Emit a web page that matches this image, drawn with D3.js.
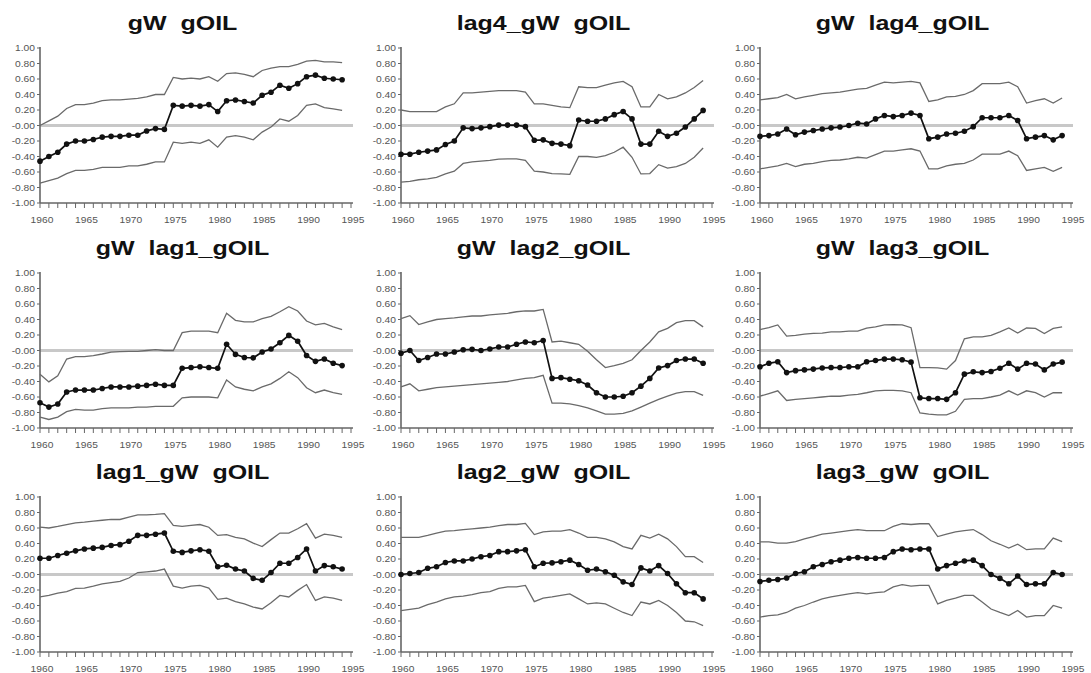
<!DOCTYPE html>
<html><head><meta charset="utf-8">
<script src="https://cdn.jsdelivr.net/npm/d3@7"></script>
<style>body{margin:0;background:#fff;}svg{display:block;}</style>
</head><body>
<svg id="c" width="1091" height="673"></svg>
<script>
const years = [1960,1961,1962,1963,1964,1965,1966,1967,1968,1969,1970,1971,1972,1973,1974,1975,1976,1977,1978,1979,1980,1981,1982,1983,1984,1985,1986,1987,1988,1989,1990,1991,1992,1993,1994];
const titles = ["gW  gOIL","lag4_gW  gOIL","gW  lag4_gOIL","gW  lag1_gOIL","gW  lag2_gOIL","gW  lag3_gOIL","lag1_gW  gOIL","lag2_gW  gOIL","lag3_gW  gOIL"];
const yTickValues = [1,0.8,0.6,0.4,0.2,0,-0.2,-0.4,-0.6,-0.8,-1];
const yTickLabels = ["1.00","0.80","0.60","0.40","0.20","-0.00","-0.20","-0.40","-0.60","-0.80","-1.00"];
const xTickLabels = [1960,1965,1970,1975,1980,1985,1990,1995];

const p1_mid = [-0.46,-0.40,-0.345,-0.24,-0.20,-0.20,-0.18,-0.15,-0.14,-0.14,-0.125,-0.125,-0.07,-0.04,-0.05,0.26,0.25,0.26,0.25,0.27,0.18,0.32,0.33,0.31,0.29,0.39,0.43,0.52,0.48,0.54,0.63,0.65,0.61,0.60,0.59];
const p1_hi = [0.00,0.06,0.12,0.22,0.27,0.27,0.29,0.32,0.33,0.33,0.34,0.35,0.37,0.40,0.40,0.62,0.60,0.61,0.60,0.63,0.57,0.67,0.68,0.66,0.63,0.71,0.74,0.76,0.76,0.79,0.83,0.84,0.82,0.82,0.81];
const p1_lo = [-0.745,-0.71,-0.68,-0.62,-0.58,-0.58,-0.565,-0.54,-0.54,-0.54,-0.52,-0.52,-0.50,-0.47,-0.47,-0.215,-0.23,-0.215,-0.23,-0.185,-0.28,-0.15,-0.13,-0.15,-0.185,-0.085,-0.02,0.085,0.055,0.13,0.26,0.28,0.23,0.215,0.195];

const p2_mid = [-0.37,-0.37,-0.345,-0.33,-0.315,-0.245,-0.20,-0.03,-0.04,-0.03,-0.015,0.005,0.005,0.005,-0.015,-0.19,-0.185,-0.23,-0.24,-0.26,0.07,0.055,0.055,0.085,0.14,0.18,0.085,-0.24,-0.24,-0.075,-0.14,-0.10,-0.02,0.085,0.195];
const p2_hi = [0.20,0.18,0.18,0.18,0.18,0.24,0.28,0.42,0.42,0.43,0.44,0.45,0.45,0.45,0.43,0.28,0.28,0.26,0.24,0.23,0.50,0.49,0.49,0.52,0.55,0.57,0.50,0.24,0.24,0.40,0.345,0.37,0.42,0.49,0.58];
const p2_lo = [-0.73,-0.72,-0.70,-0.69,-0.67,-0.625,-0.59,-0.49,-0.47,-0.46,-0.45,-0.435,-0.43,-0.43,-0.45,-0.59,-0.60,-0.62,-0.625,-0.63,-0.40,-0.40,-0.41,-0.39,-0.345,-0.28,-0.41,-0.625,-0.62,-0.505,-0.55,-0.53,-0.49,-0.41,-0.29];

const p3_mid = [-0.14,-0.13,-0.11,-0.045,-0.12,-0.085,-0.065,-0.045,-0.03,-0.02,0.0,0.03,0.02,0.085,0.13,0.115,0.13,0.16,0.13,-0.17,-0.15,-0.11,-0.10,-0.075,-0.015,0.10,0.10,0.10,0.13,0.065,-0.17,-0.15,-0.13,-0.185,-0.13];
const p3_hi = [0.33,0.345,0.36,0.40,0.345,0.37,0.39,0.41,0.42,0.43,0.45,0.47,0.48,0.52,0.56,0.55,0.56,0.57,0.55,0.31,0.33,0.37,0.375,0.40,0.45,0.54,0.54,0.54,0.56,0.50,0.29,0.32,0.345,0.29,0.355];
const p3_lo = [-0.56,-0.54,-0.52,-0.49,-0.53,-0.50,-0.49,-0.465,-0.45,-0.445,-0.43,-0.41,-0.42,-0.375,-0.33,-0.33,-0.315,-0.30,-0.33,-0.56,-0.56,-0.52,-0.50,-0.49,-0.445,-0.37,-0.37,-0.37,-0.33,-0.39,-0.58,-0.56,-0.54,-0.59,-0.54];

const p4_mid = [-0.675,-0.73,-0.69,-0.535,-0.51,-0.51,-0.51,-0.49,-0.47,-0.47,-0.47,-0.46,-0.45,-0.435,-0.45,-0.45,-0.23,-0.22,-0.21,-0.22,-0.23,0.08,-0.05,-0.09,-0.095,-0.02,0.02,0.10,0.195,0.12,-0.065,-0.14,-0.11,-0.165,-0.195];
const p4_hi = [-0.305,-0.405,-0.325,-0.11,-0.08,-0.08,-0.065,-0.045,-0.02,-0.015,-0.01,-0.01,0.0,0.01,0.0,0.0,0.23,0.25,0.25,0.25,0.23,0.48,0.39,0.37,0.37,0.41,0.44,0.50,0.565,0.51,0.38,0.33,0.35,0.305,0.27];
const p4_lo = [-0.86,-0.89,-0.86,-0.79,-0.76,-0.77,-0.77,-0.75,-0.74,-0.74,-0.74,-0.73,-0.73,-0.72,-0.72,-0.72,-0.61,-0.60,-0.60,-0.60,-0.61,-0.38,-0.47,-0.50,-0.52,-0.47,-0.43,-0.36,-0.275,-0.35,-0.48,-0.545,-0.51,-0.545,-0.565];

const p5_mid = [-0.035,0.0,-0.13,-0.09,-0.045,-0.045,-0.02,0.01,0.015,0.0,0.02,0.045,0.045,0.08,0.11,0.10,0.13,-0.36,-0.35,-0.37,-0.39,-0.445,-0.545,-0.60,-0.60,-0.59,-0.545,-0.46,-0.36,-0.225,-0.195,-0.13,-0.11,-0.11,-0.165];
const p5_hi = [0.41,0.45,0.335,0.37,0.40,0.41,0.42,0.435,0.445,0.445,0.46,0.47,0.48,0.50,0.51,0.51,0.53,0.11,0.12,0.10,0.08,-0.01,-0.12,-0.22,-0.195,-0.165,-0.12,0.0,0.11,0.24,0.285,0.36,0.385,0.385,0.305];
const p5_lo = [-0.47,-0.43,-0.52,-0.50,-0.48,-0.47,-0.46,-0.45,-0.44,-0.43,-0.42,-0.41,-0.40,-0.38,-0.36,-0.35,-0.32,-0.68,-0.68,-0.69,-0.71,-0.74,-0.78,-0.82,-0.82,-0.81,-0.78,-0.73,-0.68,-0.63,-0.59,-0.55,-0.53,-0.53,-0.58];

const p6_mid = [-0.21,-0.165,-0.145,-0.285,-0.26,-0.25,-0.24,-0.225,-0.22,-0.22,-0.21,-0.21,-0.145,-0.13,-0.11,-0.11,-0.12,-0.15,-0.61,-0.62,-0.62,-0.63,-0.545,-0.305,-0.275,-0.285,-0.27,-0.23,-0.165,-0.24,-0.165,-0.175,-0.25,-0.175,-0.15];
const p6_hi = [0.27,0.295,0.33,0.185,0.195,0.21,0.22,0.225,0.24,0.24,0.25,0.25,0.29,0.305,0.33,0.335,0.33,0.295,-0.22,-0.22,-0.225,-0.24,-0.13,0.15,0.175,0.175,0.195,0.24,0.29,0.225,0.29,0.285,0.22,0.285,0.305];
const p6_lo = [-0.59,-0.555,-0.52,-0.645,-0.63,-0.62,-0.61,-0.60,-0.59,-0.59,-0.575,-0.565,-0.545,-0.52,-0.515,-0.515,-0.52,-0.545,-0.805,-0.82,-0.83,-0.83,-0.785,-0.63,-0.62,-0.62,-0.60,-0.575,-0.52,-0.575,-0.52,-0.545,-0.60,-0.545,-0.545];

const p7_mid = [0.21,0.21,0.245,0.275,0.305,0.33,0.34,0.35,0.375,0.385,0.43,0.505,0.505,0.52,0.535,0.30,0.285,0.305,0.32,0.30,0.10,0.12,0.07,0.045,-0.05,-0.075,0.025,0.145,0.145,0.22,0.33,0.045,0.115,0.10,0.07];
const p7_hi = [0.61,0.60,0.62,0.645,0.665,0.675,0.69,0.70,0.71,0.71,0.74,0.77,0.77,0.775,0.785,0.635,0.62,0.635,0.645,0.61,0.505,0.515,0.48,0.46,0.405,0.36,0.45,0.535,0.535,0.59,0.655,0.47,0.52,0.505,0.48];
const p7_lo = [-0.29,-0.27,-0.24,-0.22,-0.18,-0.175,-0.15,-0.12,-0.105,-0.09,-0.045,0.025,0.035,0.045,0.07,-0.15,-0.175,-0.15,-0.14,-0.175,-0.32,-0.305,-0.35,-0.38,-0.42,-0.445,-0.365,-0.27,-0.29,-0.205,-0.13,-0.335,-0.29,-0.305,-0.335];

const p8_mid = [0.0,0.013,0.026,0.08,0.10,0.155,0.175,0.175,0.20,0.23,0.245,0.295,0.295,0.305,0.32,0.10,0.145,0.15,0.165,0.185,0.13,0.055,0.07,0.035,-0.01,-0.095,-0.13,0.085,0.045,0.115,0.013,-0.12,-0.235,-0.235,-0.315];
const p8_hi = [0.48,0.48,0.48,0.505,0.535,0.56,0.565,0.58,0.59,0.60,0.61,0.63,0.645,0.645,0.66,0.515,0.55,0.56,0.56,0.58,0.535,0.48,0.48,0.46,0.42,0.36,0.33,0.505,0.47,0.52,0.46,0.36,0.23,0.23,0.155];
const p8_lo = [-0.465,-0.45,-0.435,-0.39,-0.355,-0.315,-0.29,-0.28,-0.26,-0.235,-0.22,-0.18,-0.16,-0.16,-0.14,-0.35,-0.305,-0.29,-0.27,-0.25,-0.315,-0.38,-0.365,-0.38,-0.435,-0.49,-0.53,-0.355,-0.38,-0.335,-0.40,-0.49,-0.60,-0.61,-0.66];

const p9_mid = [-0.09,-0.075,-0.065,-0.045,0.013,0.035,0.10,0.13,0.165,0.185,0.21,0.22,0.21,0.21,0.22,0.295,0.33,0.32,0.33,0.33,0.07,0.115,0.145,0.175,0.185,0.115,0.0,-0.05,-0.12,-0.02,-0.13,-0.12,-0.12,0.025,0.0];
const p9_hi = [0.42,0.42,0.405,0.405,0.425,0.46,0.49,0.52,0.535,0.55,0.565,0.58,0.565,0.565,0.565,0.62,0.655,0.645,0.655,0.655,0.49,0.52,0.55,0.565,0.58,0.515,0.435,0.39,0.34,0.39,0.32,0.33,0.33,0.47,0.425];
const p9_lo = [-0.55,-0.53,-0.52,-0.49,-0.435,-0.40,-0.355,-0.315,-0.29,-0.27,-0.25,-0.235,-0.25,-0.235,-0.225,-0.16,-0.13,-0.15,-0.14,-0.14,-0.38,-0.335,-0.305,-0.27,-0.27,-0.355,-0.445,-0.49,-0.53,-0.465,-0.55,-0.53,-0.53,-0.40,-0.435];

const panels = [
  {mid:p1_mid,hi:p1_hi,lo:p1_lo},{mid:p2_mid,hi:p2_hi,lo:p2_lo},{mid:p3_mid,hi:p3_hi,lo:p3_lo},
  {mid:p4_mid,hi:p4_hi,lo:p4_lo},{mid:p5_mid,hi:p5_hi,lo:p5_lo},{mid:p6_mid,hi:p6_hi,lo:p6_lo},
  {mid:p7_mid,hi:p7_hi,lo:p7_lo},{mid:p8_mid,hi:p8_hi,lo:p8_lo},{mid:p9_mid,hi:p9_hi,lo:p9_lo}
];

const colX = [40, 401, 760];
const rowY = [48, 273, 497];
const W = 311, H = 155;
const STRETCH = 1.22;
const FONT = "'Liberation Sans', Arial, sans-serif";

const svg = d3.select("#c");
const x = d3.scaleLinear().domain([1960,1995]).range([0,W]);
const y = d3.scaleLinear().domain([-1,1]).range([H,0]);

panels.forEach((p,i) => {
  const g = svg.append("g").attr("transform",`translate(${colX[i%3]},${rowY[Math.floor(i/3)]})`);

  g.append("text")
    .attr("transform",`translate(${W/2 - 13},-18) scale(${STRETCH},1)`)
    .attr("text-anchor","middle")
    .style("white-space","pre")
    .attr("font-family",FONT).attr("font-weight","bold").attr("font-size",20.5)
    .attr("fill","#111")
    .text(titles[i]);

  g.append("line").attr("x1",0).attr("x2",W+2).attr("y1",y(0)).attr("y2",y(0))
    .attr("stroke","#c8c8c8").attr("stroke-width",3);

  g.append("line").attr("x1",0).attr("x2",0).attr("y1",y(1)-1).attr("y2",H)
    .attr("stroke","#666").attr("stroke-width",1.6);
  yTickValues.forEach((v,k) => {
    g.append("line").attr("x1",-3).attr("x2",0).attr("y1",y(v)).attr("y2",y(v))
      .attr("stroke","#666").attr("stroke-width",1);
    g.append("text")
      .attr("transform",`translate(-5,${y(v)+3}) scale(${STRETCH},1)`)
      .attr("text-anchor","end").attr("font-family",FONT).attr("font-size",8.4)
      .attr("fill","#555").text(yTickLabels[k]);
  });

  g.append("line").attr("x1",0).attr("x2",W+2).attr("y1",H).attr("y2",H)
    .attr("stroke","#666").attr("stroke-width",1.6);
  years.concat([1995]).forEach(yr => {
    g.append("line").attr("x1",x(yr)).attr("x2",x(yr)).attr("y1",H).attr("y2",H+5)
      .attr("stroke","#666").attr("stroke-width",1);
  });
  xTickLabels.forEach(yr => {
    g.append("text")
      .attr("transform",`translate(${x(yr)+2},${H+20}) scale(${STRETCH},1)`)
      .attr("text-anchor","middle").attr("font-family",FONT).attr("font-size",8.4)
      .attr("fill","#555").text(yr);
  });

  const line = d3.line().x((d,k)=>x(years[k])).y(d=>y(d));
  g.append("path").datum(p.hi).attr("d",line).attr("fill","none").attr("stroke","#6a6a6a").attr("stroke-width",1.3);
  g.append("path").datum(p.lo).attr("d",line).attr("fill","none").attr("stroke","#6a6a6a").attr("stroke-width",1.3);
  g.append("path").datum(p.mid).attr("d",line).attr("fill","none").attr("stroke","#111").attr("stroke-width",1.7);
  g.selectAll("circle.m").data(p.mid).enter().append("circle")
    .attr("cx",(d,k)=>x(years[k])).attr("cy",d=>y(d)).attr("r",2.8).attr("fill","#111");
});
</script>
</body></html>
